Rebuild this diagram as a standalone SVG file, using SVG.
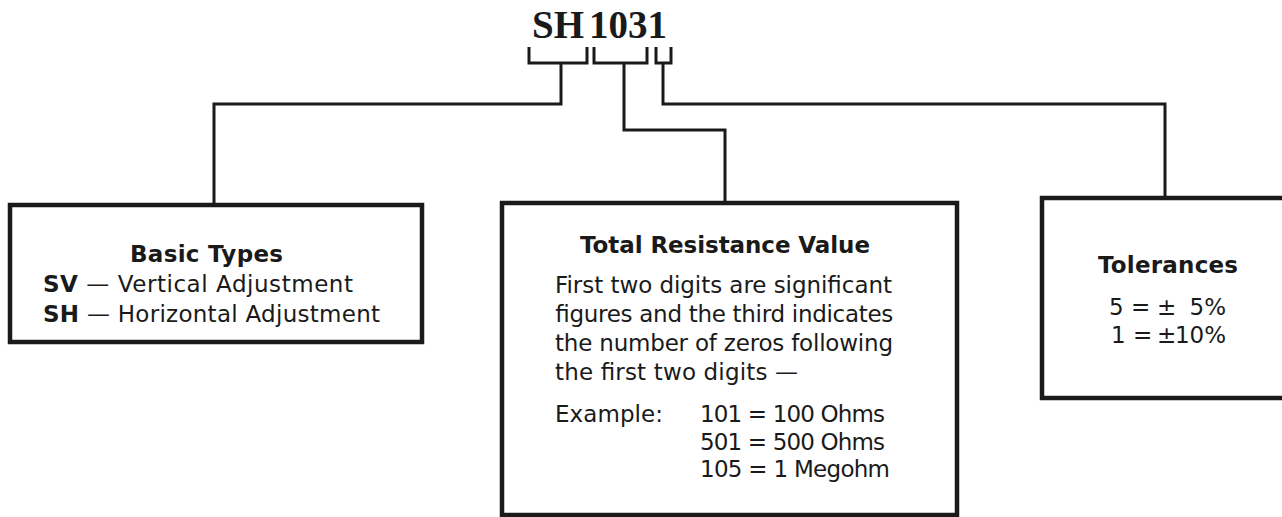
<svg xmlns="http://www.w3.org/2000/svg" width="1282" height="517" viewBox="0 0 1282 517">
<style>
.box{fill:#fff;stroke:#1a1a1a;stroke-width:4.5}
.con{fill:none;stroke:#1a1a1a;stroke-width:3;stroke-linejoin:miter}
.t{font-family:"DejaVu Sans",sans-serif;font-size:23px;fill:#1a1a1a}
.b{font-weight:bold}
.c{text-anchor:middle}
.code{font-family:"Liberation Serif",serif;font-weight:bold;font-size:39px;fill:#1a1a1a}
</style>
<rect width="1282" height="517" fill="#fff"/>
<g id="code">
<text class="code" x="532" y="38">SH<tspan dx="5">1031</tspan></text>
</g>
<g id="connectors">
<path class="con" d="M529,47 V63 H587 V47 M561,63 V104 H214 V205"/>
<path class="con" d="M594,47 V63 H647 V47 M624,63 V130 H725 V203"/>
<path class="con" d="M656,47 V63 H671 V47 M663,63 V104 H1165 V198"/>
</g>
<g id="basic-types">
<rect class="box" x="10" y="205" width="412" height="137"/>
<text class="t b" x="130" y="262" textLength="153">Basic Types</text>
<text class="t" x="43" y="292" textLength="310"><tspan class="b">SV</tspan> — Vertical Adjustment</text>
<text class="t" x="43" y="322" textLength="337"><tspan class="b">SH</tspan> — Horizontal Adjustment</text>
</g>
<g id="total-resistance">
<rect class="box" x="502" y="203" width="455" height="312"/>
<text class="t b" x="580" y="253" textLength="290">Total Resistance Value</text>
<text class="t" x="555" y="293" textLength="337">First two digits are significant</text>
<text class="t" x="555" y="322" textLength="338">figures and the third indicates</text>
<text class="t" x="555" y="351" textLength="338">the number of zeros following</text>
<text class="t" x="555" y="380" textLength="243">the first two digits —</text>
<text class="t" x="555" y="422" textLength="108">Example:</text>
<text class="t" x="700" y="422" textLength="185">101 = 100 Ohms</text>
<text class="t" x="700" y="450" textLength="185">501 = 500 Ohms</text>
<text class="t" x="700" y="477" textLength="190">105 = 1 Megohm</text>
</g>
<g id="tolerances">
<rect class="box" x="1042" y="198" width="250" height="200"/>
<text class="t b" x="1098" y="273" textLength="140">Tolerances</text>
<text class="t" y="315"><tspan x="1109">5 =</tspan><tspan x="1157">±</tspan><tspan x="1226" text-anchor="end">5%</tspan></text>
<text class="t" y="343"><tspan x="1111">1 =</tspan><tspan x="1157">±</tspan><tspan x="1226" text-anchor="end">10%</tspan></text>
</g>
</svg>
